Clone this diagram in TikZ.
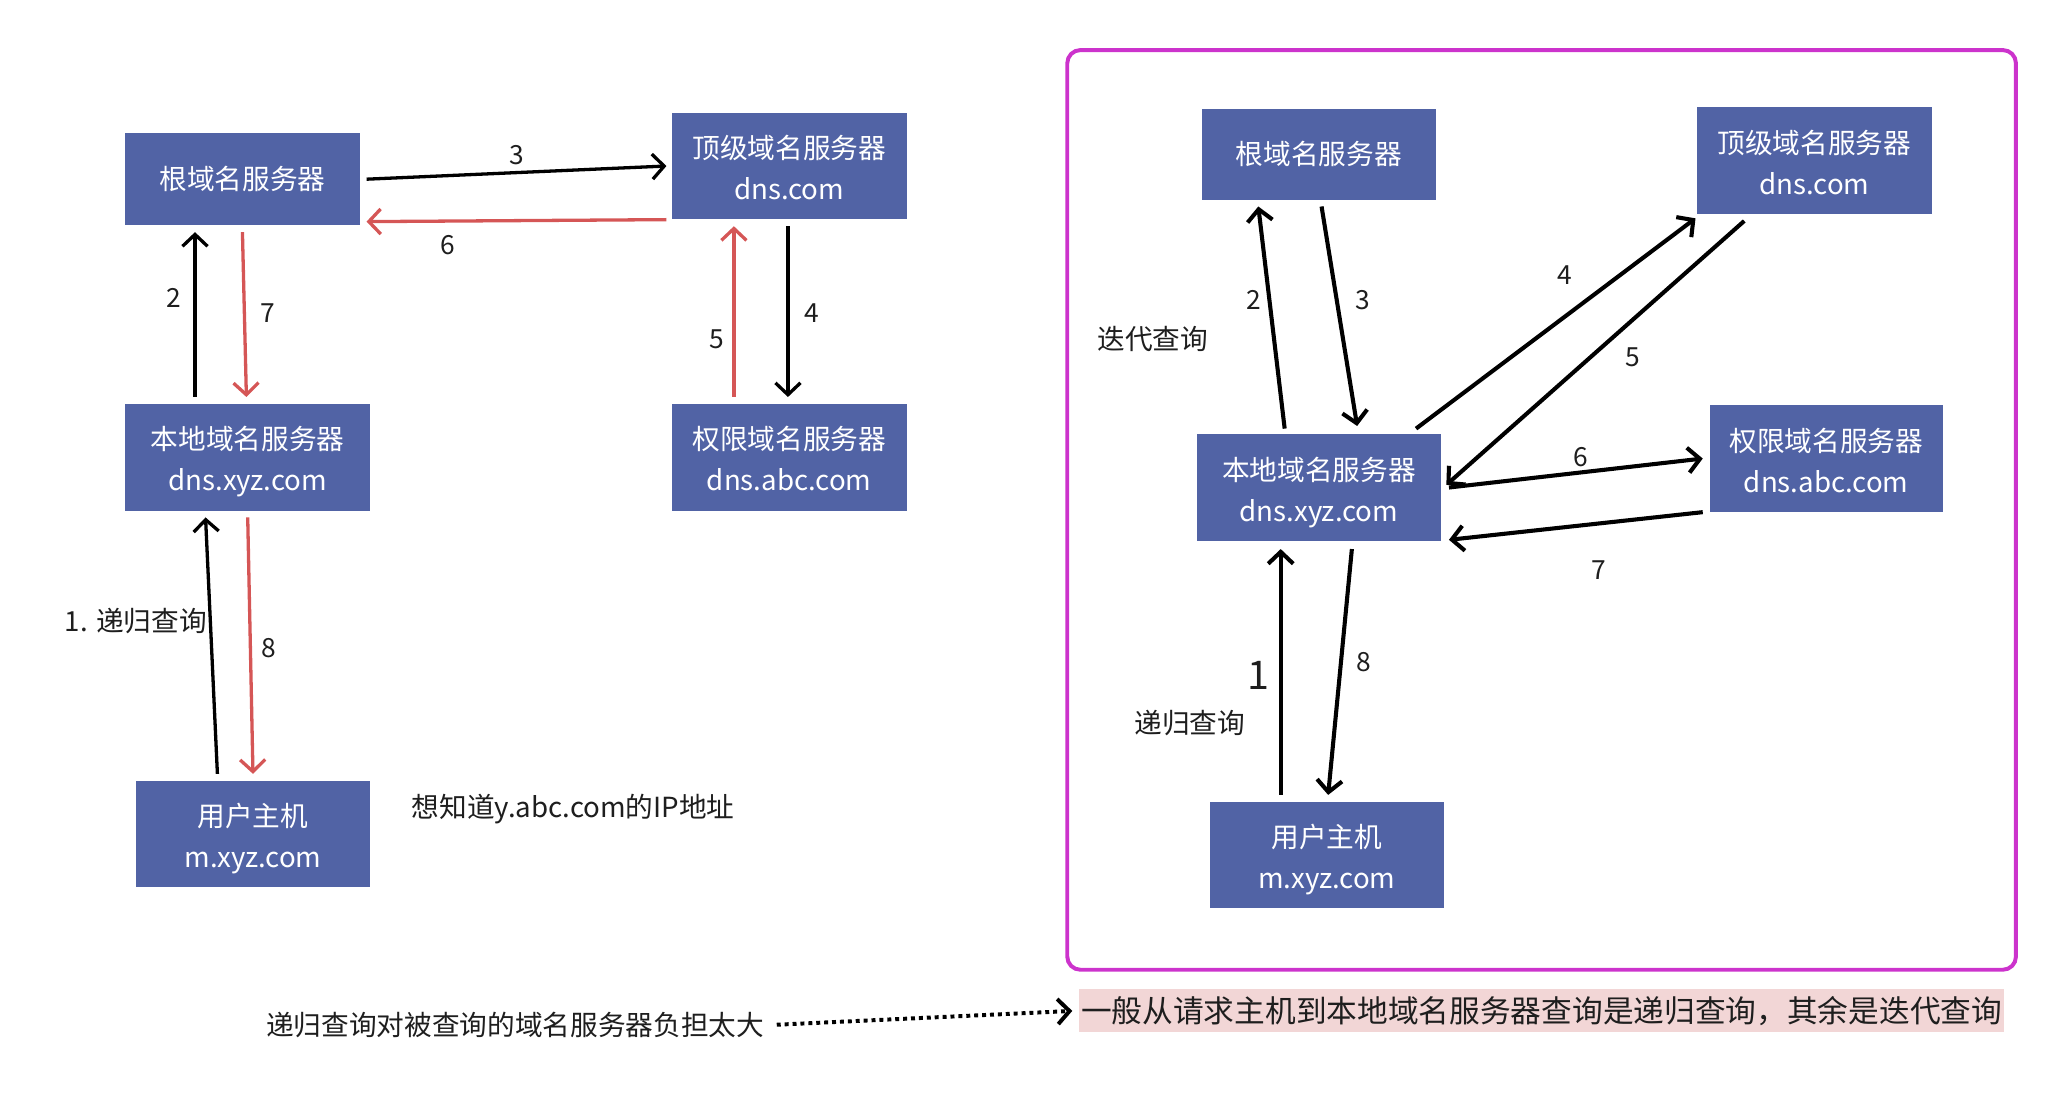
\documentclass[tikz,border=0pt]{standalone}
\usepackage{fontspec}
\setmainfont{Noto Sans CJK SC}
\usetikzlibrary{arrows.meta,positioning}
\definecolor{srvblue}{RGB}{81,99,165}
\definecolor{ansred}{RGB}{213,86,86}
\definecolor{framemag}{RGB}{204,51,204}
\definecolor{notepink}{RGB}{242,214,214}
\definecolor{inkgray}{RGB}{30,30,30}
\begin{document}
\begin{tikzpicture}[x=1pt, y=-1pt, >={Straight Barb[length=9pt,width=19pt]}, node distance=211pt,
  server/.style={fill=srvblue, text=white, align=center, inner sep=0pt, minimum width=178pt, minimum height=81pt, font=\fontsize{21}{31}\selectfont},
  twoline/.style={text height=51pt, text depth=0pt},
  numlabel/.style={text=inkgray, font=\fontsize{20}{24}\selectfont},
  sidenote/.style={text=inkgray, font=\fontsize{21}{25}\selectfont},
  reqline/.style={->, line width=2.5pt},
  ansline/.style={->, line width=2.5pt, draw=ansred},
  hopline/.style={->, line width=3.1pt}]
\useasboundingbox (0,0) rectangle (1568,829);

\node[server, minimum height=70pt] (lroot) at (184,136) {根域名服务器};
\node[server, twoline, right of=lroot, xshift=204pt, yshift=10pt] (ltld) {顶级域名服务器\\dns.com};
\node[server, twoline, minimum width=186pt, below of=lroot, xshift=4pt] (lloc) {本地域名服务器\\dns.xyz.com};
\node[server, twoline, right of=lloc, xshift=200pt] (lauth) {权限域名服务器\\dns.abc.com};
\node[server, twoline, below of=lloc, xshift=4pt, yshift=-75pt] (luser) {用户主机\\m.xyz.com};
\node[sidenote, anchor=west] (want) at (309,614) {想知道y.abc.com的IP地址};

\draw[reqline] ([shift={(5,0)}]lroot.east) -- node[numlabel, yshift=13pt] (l3) {3} ([shift={(-4,0)}]ltld.west);
\draw[ansline] ([shift={(-4,0)}]ltld.south west) -- node[numlabel, pos=0.73, yshift=-18pt] (l6) {6} ([shift={(5,-3)}]lroot.south east);
\draw[reqline] ([shift={(-40,-5)}]lloc.north) -- node[numlabel, pos=0.6, xshift=-16pt] (l2) {2} ([shift={(-36,5)}]lroot.south);
\draw[ansline] ([shift={(0,5)}]lroot.south) -- node[numlabel, pos=0.49, xshift=18pt] (l7) {7} ([shift={(-1,-5)}]lloc.north);
\draw[reqline] ([shift={(-1,5)}]ltld.south) -- node[numlabel, pos=0.51, xshift=18pt] (l4) {4} ([shift={(-1,-5)}]lauth.north);
\draw[ansline] ([shift={(-42,-5)}]lauth.north) -- node[numlabel, pos=0.34, xshift=-13pt] (l5) {5} ([shift={(-42,5)}]ltld.south);
\draw[reqline] ([shift={(-27,-5)}]luser.north) -- node[sidenote, pos=0.595, anchor=east, xshift=2pt] (l1) {1. 递归查询} ([shift={(-32,5)}]lloc.south);
\draw[ansline] ([shift={(0,5)}]lloc.south) -- node[numlabel, pos=0.51, xshift=14pt] (l8) {8} ([shift={(0,-5)}]luser.north);

\draw[framemag, line width=3pt, rounded corners=10pt] (810,38) rectangle (1530,736);

\node[server, minimum width=177pt, minimum height=69pt] (rroot) at (1001,117) {根域名服务器};
\node[server, twoline, right of=rroot, xshift=165pt, yshift=-5pt] (rtld) {顶级域名服务器\\dns.com};
\node[server, twoline, minimum width=185pt, below of=rroot, yshift=-42pt] (rloc) {本地域名服务器\\dns.xyz.com};
\node[server, twoline, minimum width=177pt, right of=rloc, xshift=174pt, yshift=22pt] (rauth) {权限域名服务器\\dns.abc.com};
\node[server, twoline, below of=rloc, xshift=6pt, yshift=-68pt] (ruser) {用户主机\\m.xyz.com};
\node[sidenote] (iter) at (875,257) {迭代查询};

\draw[hopline] ([shift={(-26,-4)}]rloc.north) -- node[numlabel, pos=0.58, xshift=-12pt] (r2) {2} ([shift={(-46,5)}]rroot.south);
\draw[hopline] ([shift={(2,5)}]rroot.south) -- node[numlabel, pos=0.425, xshift=20pt] (r3) {3} ([shift={(29,-6)}]rloc.north);
\draw[hopline] ([shift={(-19,-4)}]rloc.north east) -- node[numlabel, pos=0.6, xshift=-14pt, yshift=21pt] (r4) {4} ([shift={(-1,3)}]rtld.south west);
\draw[hopline] ([shift={(36,5)}]rtld.south west) -- node[numlabel, pos=0.435, xshift=14pt, yshift=-16pt] (r5) {5} ([shift={(4,-2)}]rloc.east);
\draw[hopline] ([shift={(6,0)}]rloc.east) -- node[numlabel, pos=0.52, yshift=12pt] (r6) {6} ([shift={(-5,0)}]rauth.west);
\draw[hopline] ([shift={(-5,0)}]rauth.south west) -- node[numlabel, pos=0.41, yshift=-35pt] (r7) {7} ([shift={(6,-1)}]rloc.south east);
\draw[hopline] ([shift={(-35,-5)}]ruser.north) -- node[numlabel, pos=0.487, xshift=-17pt, font=\fontsize{30}{34}\selectfont] (r1) {1}
  node[sidenote, pos=0.294, xshift=-69pt] (r1note) {递归查询} ([shift={(-29,6)}]rloc.south);
\draw[hopline] ([shift={(25,6)}]rloc.south) -- node[numlabel, pos=0.46, xshift=17pt] (r8) {8} ([shift={(1,-5)}]ruser.north);

\node[sidenote] (burden) at (391,778) {递归查询对被查询的域名服务器负担太大};
\node[fill=notepink, text=inkgray, inner xsep=0pt, inner ysep=0pt, minimum width=702pt, minimum height=33pt, font=\fontsize{23.3}{27}\selectfont] (summary) at (1170,767) {一般从请求主机到本地域名服务器查询是递归查询，其余是迭代查询};
\draw[->, line width=3pt, dash pattern=on 3pt off 3pt, shorten <=6pt, shorten >=5pt] (burden.east) -- (summary.west);
\end{tikzpicture}
\end{document}
